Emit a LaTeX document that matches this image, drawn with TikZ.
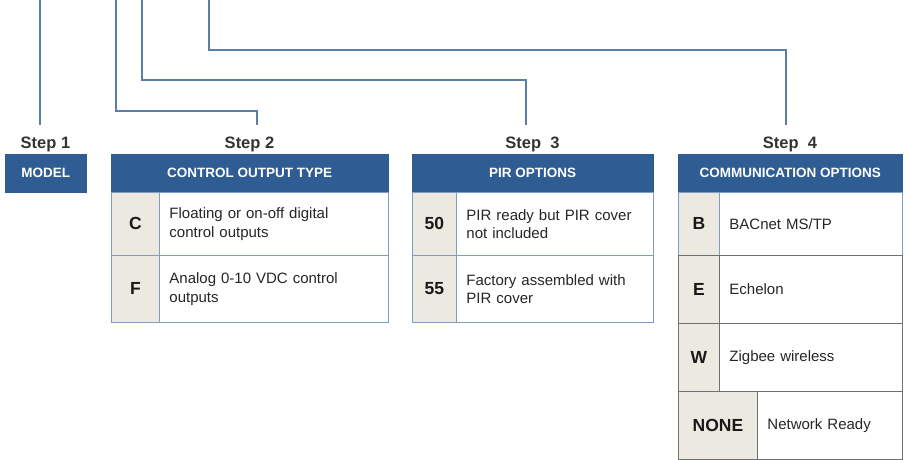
\documentclass[tikz,border=0pt]{standalone}
\usepackage{fontspec}
\setmainfont{Liberation Sans}
\definecolor{hdr}{HTML}{2F5C93}
\definecolor{keyfill}{HTML}{ECE9E1}
\definecolor{bord}{HTML}{7F9CC3}
\definecolor{connc}{HTML}{5B7DAA}
\definecolor{grayb}{HTML}{707070}
\tikzset{
  conn/.style={draw=connc, line width=1.8pt},
  steplabel/.style={font=\fontsize{16.5}{18}\selectfont\bfseries, text=black!80, anchor=base, inner ysep=11pt, inner xsep=0pt},
  hdrbox/.style={fill=hdr, draw=hdr, text=white, font=\fontsize{13.5}{15}\selectfont\bfseries, anchor=north west, inner sep=0pt, minimum height=38pt},
  keybox/.style={fill=keyfill, draw=#1, line width=0.9pt, text=black!90, font=\fontsize{17.5}{20}\selectfont\bfseries, anchor=north west, inner sep=0pt},
  keybox/.default=bord,
  descbox/.style={fill=white, draw=#1, line width=0.9pt, text=black!85, font=\fontsize{15}{18.5}\selectfont, anchor=north west, inner xsep=10pt, inner ysep=0pt, align=left},
  descbox/.default=bord
}
\begin{document}
\begin{tikzpicture}[x=1pt,y=-1pt]
\useasboundingbox (0,0) rectangle (910,460);
% step labels
\node[steplabel] (s1) at (45.5,148) {Step 1};
\node[steplabel] (s2) at (249.5,148) {Step 2};
\node[steplabel] (s3) at (532.5,148) {Step\ \ 3};
\node[steplabel] (s4) at (790,148) {Step\ \ 4};
% top ends
\coordinate (t1) at (40,0);
\coordinate (t2) at (116,0);
\coordinate (t3) at (142,0);
\coordinate (t4) at (209,0);
% connectors
\draw[conn] (t1) -- ([xshift=-5.5pt]s1.north);
\draw[conn] (t2) -- (116,111) -| ([xshift=7.5pt]s2.north);
\draw[conn] (t3) -- (142,80) -| ([xshift=-6.5pt]s3.north);
\draw[conn] (t4) -- (209,50) -| ([xshift=-4pt]s4.north);
% Step 1
\node[hdrbox, minimum width=81pt] (model) at (5,154) {MODEL};
% Step 2
\node[hdrbox, minimum width=277pt] (h2) at (111,154) {CONTROL OUTPUT TYPE};
\node[descbox, minimum height=63pt, text width=209pt] (d2a) at (159,192) {Floating or on-off digital\\control outputs};
\node[keybox, minimum width=48pt, minimum height=63pt] (k2a) at (111,192) {C};
\node[descbox, minimum height=67pt, text width=209pt] (d2b) at (159,255) {Analog 0-10 VDC control\\outputs};
\node[keybox, minimum width=48pt, minimum height=67pt] (k2b) at (111,255) {F};
% Step 3
\node[hdrbox, minimum width=241pt] (h3) at (412,154) {PIR OPTIONS};
\node[descbox, minimum height=63pt, text width=177pt] (d3a) at (456,192) {PIR ready but PIR cover\\not included};
\node[keybox, minimum width=44pt, minimum height=63pt] (k3a) at (412,192) {50};
\node[descbox, minimum height=67pt, text width=177pt] (d3b) at (456,255) {Factory assembled with\\PIR cover};
\node[keybox, minimum width=44pt, minimum height=67pt] (k3b) at (412,255) {55};
% Step 4
\node[hdrbox, minimum width=224pt] (h4) at (678,154) {COMMUNICATION OPTIONS};
\node[descbox, minimum height=63pt, text width=163pt] (d4a) at (719,192) {BACnet MS/TP};
\node[keybox, minimum width=41pt, minimum height=63pt] (k4a) at (678,192) {B};
\node[descbox=grayb, minimum height=68pt, text width=163pt] (d4b) at (719,255) {Echelon};
\node[keybox=grayb, minimum width=41pt, minimum height=68pt] (k4b) at (678,255) {E};
\node[descbox=grayb, minimum height=68pt, text width=163pt] (d4c) at (719,323) {Zigbee wireless};
\node[keybox=grayb, minimum width=41pt, minimum height=68pt] (k4c) at (678,323) {W};
\node[descbox=grayb, minimum height=68pt, text width=125pt] (d4d) at (757,391) {Network Ready};
\node[keybox=grayb, minimum width=79pt, minimum height=68pt] (k4d) at (678,391) {NONE};
\end{tikzpicture}
\end{document}
